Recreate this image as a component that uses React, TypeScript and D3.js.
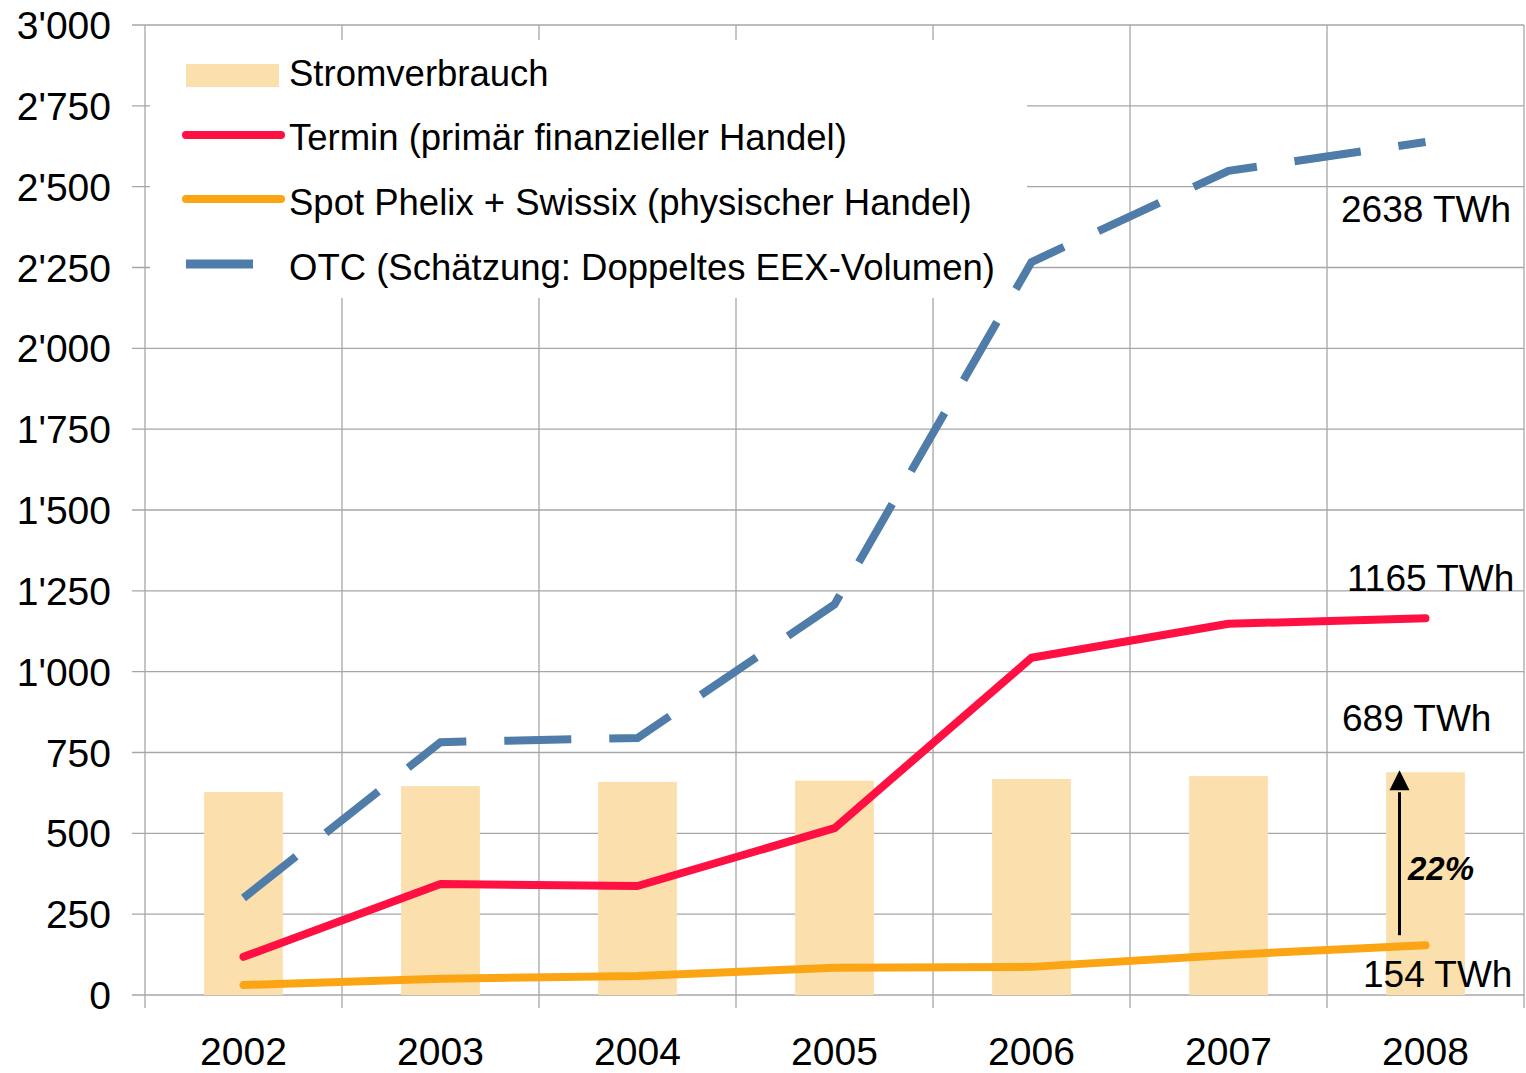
import React from 'react'
import * as d3 from 'd3'

// values (TWh)
const years = ['2002', '2003', '2004', '2005', '2006', '2007', '2008']
const stromverbrauch = [628, 646, 659, 663, 668, 677, 689]
const termin = [118, 343, 337, 516, 1043, 1148, 1165]
const spot = [31, 50, 59, 84, 87, 124, 154]
const otc = [300, 782, 795, 1208, 2267, 2549, 2638]
const yTicks = [0, 250, 500, 750, 1000, 1250, 1500, 1750, 2000, 2250, 2500, 2750, 3000]

const legendLabels = [
  'Stromverbrauch',
  'Termin (primär finanzieller Handel)',
  'Spot Phelix + Swissix (physischer Handel)',
  'OTC (Schätzung: Doppeltes EEX-Volumen)'
]

const COL_BAR = '#fbe0ad'
const COL_TERMIN = '#ff1043'
const COL_SPOT = '#fba514'
const COL_OTC = '#4f7ca8'
const COL_GRID = '#a6a6a6'

const fmt = (v: number) => {
  if (v < 1000) return String(v)
  const s = String(v)
  return s.slice(0, s.length - 3) + "'" + s.slice(s.length - 3)
}

export default function App() {
  const width = 1526
  const height = 1073
  const left = 145
  const right = 1524
  const top = 25
  const bottom = 995

  const x = d3.scaleBand().domain(years).range([left, right]).paddingInner(0).paddingOuter(0)
  const y = d3.scaleLinear().domain([0, 3000]).range([bottom, top])
  const cx = (yr: string) => (x(yr) as number) + x.bandwidth() / 2
  const barW = x.bandwidth() * 0.4

  const line = d3.line<number>().x((d, i) => cx(years[i])).y(d => y(d))

  const font = '"Liberation Sans", Arial, sans-serif'
  const last = years[years.length - 1]
  const arrowX = cx(last) - 26

  return (
    <svg width={width} height={height} style={{ display: 'block', position: 'absolute', left: 0, top: 0 }} fontFamily={font}>
      <rect width={width} height={height} fill="#fff" />
      {/* horizontal grid + left ticks */}
      <g>
        {yTicks.map(t => (
          <g key={t}>
            <line x1={132} x2={right} y1={y(t)} y2={y(t)} stroke={COL_GRID} strokeWidth={1.3} />
            <text x={111} y={y(t)} dy="0.36em" textAnchor="end" fontSize={39} fill="#000">{fmt(t)}</text>
          </g>
        ))}
      </g>
      {/* vertical grid */}
      <g>
        {years.map(yr => (
          <line key={yr} x1={x(yr) as number} x2={x(yr) as number} y1={top} y2={bottom + 13} stroke={COL_GRID} strokeWidth={1.3} />
        ))}
        <line x1={right} x2={right} y1={top} y2={bottom + 13} stroke={COL_GRID} strokeWidth={1.3} />
      </g>
      {/* bars */}
      <g>
        {years.map((yr, i) => (
          <rect key={yr} x={cx(yr) - barW / 2} y={y(stromverbrauch[i])} width={barW} height={y(0) - y(stromverbrauch[i])} fill={COL_BAR} />
        ))}
      </g>
      {/* legend background */}
      <rect x={150} y={40} width={877} height={258} fill="#fff" />
      {/* lines */}
      <path d={line(otc) || ''} fill="none" stroke={COL_OTC} strokeWidth={8} strokeDasharray="67,38" />
      <path d={line(termin) || ''} fill="none" stroke={COL_TERMIN} strokeWidth={8} strokeLinecap="round" strokeLinejoin="round" />
      <path d={line(spot) || ''} fill="none" stroke={COL_SPOT} strokeWidth={8} strokeLinecap="round" strokeLinejoin="round" />
      {/* x labels */}
      {years.map(yr => (
        <text key={yr} x={cx(yr)} y={1065} textAnchor="middle" fontSize={39} fill="#000">{yr}</text>
      ))}
      {/* legend */}
      <g fontSize={36.5} fill="#000">
        <rect x={186} y={64} width={93} height={23} fill={COL_BAR} />
        <text x={289} y={86}>{legendLabels[0]}</text>
        <line x1={186} x2={281} y1={135} y2={135} stroke={COL_TERMIN} strokeWidth={8} strokeLinecap="round" />
        <text x={289} y={150}>{legendLabels[1]}</text>
        <line x1={186} x2={281} y1={199} y2={199} stroke={COL_SPOT} strokeWidth={8} strokeLinecap="round" />
        <text x={289} y={215}>{legendLabels[2]}</text>
        <line x1={186} x2={253} y1={264} y2={264} stroke={COL_OTC} strokeWidth={9} />
        <text x={289} y={280}>{legendLabels[3]}</text>
      </g>
      {/* annotations */}
      <g fontSize={37} fill="#000">
        <text x={1341} y={222}>{otc[6]} TWh</text>
        <text x={1347} y={591}>{termin[6]} TWh</text>
        <text x={1342} y={731}>{stromverbrauch[6]} TWh</text>
        <text x={1363} y={987}>{spot[6]} TWh</text>
      </g>
      <line x1={arrowX} x2={arrowX} y1={y(spot[6]) - 10} y2={y(stromverbrauch[6]) + 20} stroke="#000" strokeWidth={3} />
      <path d={`M${arrowX},${y(stromverbrauch[6]) - 2} l-10,20 l20,0 Z`} fill="#000" />
      <text x={1408} y={880} fontSize={33} fontWeight="bold" fontStyle="italic" fill="#000">22%</text>
    </svg>
  )
}
